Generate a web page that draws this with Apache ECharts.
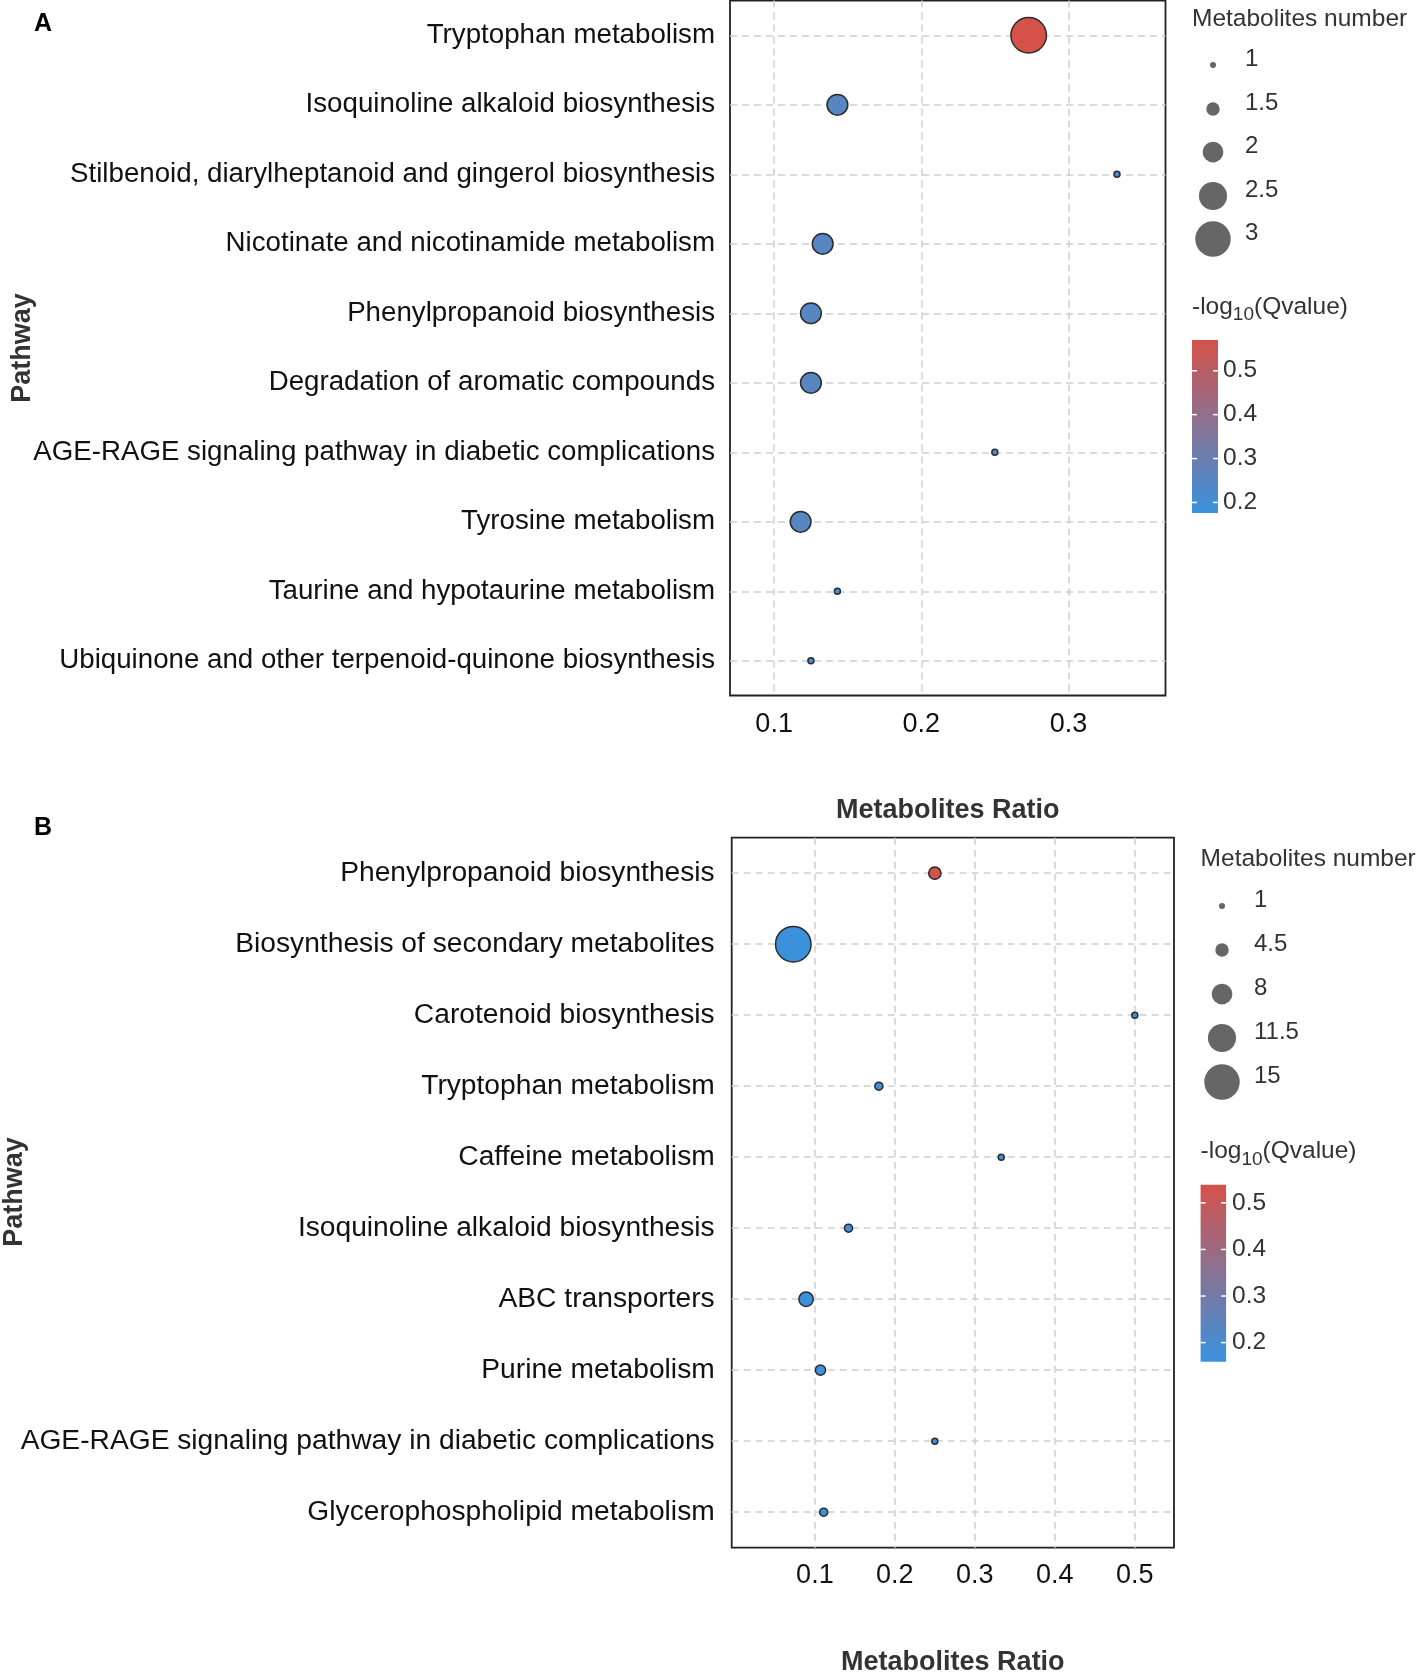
<!DOCTYPE html>
<html><head><meta charset="utf-8">
<script src="https://cdn.jsdelivr.net/npm/echarts@6/dist/echarts.min.js"></script>
<style>html,body{margin:0;padding:0;background:#fff}#c{width:1417px;height:1672px}</style>
</head><body><div id="c"></div>
<script>
// ---------- data ----------
const pathwaysA = ['Tryptophan metabolism','Isoquinoline alkaloid biosynthesis','Stilbenoid, diarylheptanoid and gingerol biosynthesis','Nicotinate and nicotinamide metabolism','Phenylpropanoid biosynthesis','Degradation of aromatic compounds','AGE-RAGE signaling pathway in diabetic complications','Tyrosine metabolism','Taurine and hypotaurine metabolism','Ubiquinone and other terpenoid-quinone biosynthesis'];
const ratioA = [0.273,0.143,0.333,0.133,0.125,0.125,0.25,0.118,0.143,0.125];
const countA = [3,2,1,2,2,2,1,2,1,1];
const qvalA  = [0.570,0.25,0.215,0.25,0.25,0.25,0.215,0.25,0.18,0.18];

const pathwaysB = ['Phenylpropanoid biosynthesis','Biosynthesis of secondary metabolites','Carotenoid biosynthesis','Tryptophan metabolism','Caffeine metabolism','Isoquinoline alkaloid biosynthesis','ABC transporters','Purine metabolism','AGE-RAGE signaling pathway in diabetic complications','Glycerophospholipid metabolism'];
const ratioB = [0.25,0.073,0.5,0.18,0.333,0.142,0.089,0.107,0.25,0.111];
const countB = [4,15,1,2,1,2,5,3,1,2];
const qvalB  = [0.539,0.165,0.165,0.165,0.165,0.165,0.165,0.165,0.165,0.165];

const xTicksA = [0.1,0.2,0.3];
const xTicksB = [0.1,0.2,0.3,0.4,0.5];
const xRangeA = [0.070,0.366];
const xRangeB = [-0.004,0.549];
const sizeBreaksA = [1,1.5,2,2.5,3];
const sizeBreaksB = [1,4.5,8,11.5,15];
const colorBreaks = [0.2,0.3,0.4,0.5];
const colorRangeA = [0.176,0.570];
const colorRangeB = [0.159,0.539];

// ---------- style / layout ----------
const FONT = '"Liberation Sans", Arial, Helvetica, sans-serif';
const LOW = '#3A92DE', HIGH = '#D4524A';
const GRIDLINE = {color:'#cfcfcf', width:1.5, type:[7,5]};
function sizeOf(v, br){ const lo = br[0], hi = br[br.length-1]; return 6 + (v-lo)/(hi-lo)*29.5; }

const layA = {grid:{left:730, top:0.5, width:435.5, height:695}, nameGap:102, xMargin:16, yFont:27.7, yMargin:15, letter:[34,24], pathway:[23,348],
  size:{tx:1192, ty:19, cx:1213, ys:[65,109,152,196,239], lx:1245},
  col:{tx:1192, ty:307, x:1192, y:340, w:26, h:173, lx:1223}};
const layB = {grid:{left:731.7, top:837.7, width:442.3, height:710}, nameGap:101, xMargin:14, yFont:28.2, yMargin:17, letter:[34,828], pathway:[15,1192],
  size:{tx:1200.6, ty:859, cx:1222, ys:[906,950,994,1038,1082], lx:1254},
  col:{tx:1200.6, ty:1151.5, x:1200.6, y:1184.7, w:25.5, h:177, lx:1232}};

const measure = document.createElement('canvas').getContext('2d');
function textW(t, f){ measure.font = f; return measure.measureText(t).width; }

const option = {animation:false, backgroundColor:'#fff', grid:[], xAxis:[], yAxis:[], series:[], visualMap:[], graphic:[]};

function addPanel(idx, letter, cats, ratio, count, qval, xRange, xTicks, sizeBreaks, colorRange, lay){
  option.grid.push(Object.assign({show:true, borderColor:'#222', borderWidth:1.8, backgroundColor:'transparent', containLabel:false, outerBoundsMode:'none'}, lay.grid));
  option.xAxis.push({gridIndex:idx, type:'value', min:xRange[0], max:xRange[1],
    axisLine:{show:false}, axisTick:{show:false, customValues:xTicks},
    axisLabel:{customValues:xTicks, fontSize:27, color:'#111', margin:lay.xMargin, fontFamily:FONT},
    splitLine:{show:true, lineStyle:GRIDLINE},
    name:'Metabolites Ratio', nameLocation:'middle', nameGap:lay.nameGap,
    nameTextStyle:{fontSize:27, fontWeight:'bold', color:'#333', fontFamily:FONT}});
  option.yAxis.push({gridIndex:idx, type:'category', data:cats, inverse:true,
    axisLine:{show:false}, axisTick:{show:false},
    axisLabel:{fontSize:lay.yFont, color:'#111', margin:lay.yMargin, interval:0, fontFamily:FONT, padding:[9,0,0,0]},
    splitLine:{show:true, interval:0, alignWithLabel:true, lineStyle:GRIDLINE}});
  option.series.push({type:'scatter', xAxisIndex:idx, yAxisIndex:idx, z:5,
    data: ratio.map((r,i)=>[r, cats[i], count[i], qval[i]]),
    symbolSize: v => sizeOf(v[2], sizeBreaks),
    itemStyle:{borderColor:'#2b2b2b', borderWidth:1.5, opacity:1},
    emphasis:{disabled:true}});
  option.visualMap.push({type:'continuous', show:false, seriesIndex:idx, dimension:3,
    min:colorRange[0], max:colorRange[1], inRange:{color:[LOW, HIGH]}});

  const g = option.graphic;
  g.push({type:'text', style:{text:letter, x:lay.letter[0], y:lay.letter[1], font:'bold 25px '+FONT, fill:'#000', textVerticalAlign:'middle'}});
  g.push({type:'text', rotation:Math.PI/2, x:lay.pathway[0], y:lay.pathway[1],
    style:{text:'Pathway', x:0, y:0, font:'bold 27px '+FONT, fill:'#333', textAlign:'center', textVerticalAlign:'middle'}});
  // size legend
  const s = lay.size;
  g.push({type:'text', style:{text:'Metabolites number', x:s.tx, y:s.ty, font:'24.5px '+FONT, fill:'#333', textVerticalAlign:'middle'}});
  sizeBreaks.forEach((b,i)=>{
    g.push({type:'circle', shape:{cx:s.cx, cy:s.ys[i], r:sizeOf(b, sizeBreaks)/2}, style:{fill:'#666'}});
    g.push({type:'text', style:{text:String(b), x:s.lx, y:s.ys[i]-6, font:'24px '+FONT, fill:'#333', textVerticalAlign:'middle'}});
  });
  // colour legend
  const c = lay.col;
  const f1 = '24.5px '+FONT, f2 = '19px '+FONT;
  const w1 = textW('-log', f1), w2 = textW('10', f2);
  g.push({type:'text', style:{text:'-log', x:c.tx, y:c.ty, font:f1, fill:'#333', textVerticalAlign:'middle'}});
  g.push({type:'text', style:{text:'10', x:c.tx+w1, y:c.ty+8, font:f2, fill:'#333', textVerticalAlign:'middle'}});
  g.push({type:'text', style:{text:'(Qvalue)', x:c.tx+w1+w2, y:c.ty, font:f1, fill:'#333', textVerticalAlign:'middle'}});
  g.push({type:'rect', shape:{x:c.x, y:c.y, width:c.w, height:c.h},
    style:{fill:new echarts.graphic.LinearGradient(0,1,0,0,[{offset:0,color:LOW},{offset:1,color:HIGH}])}});
  colorBreaks.forEach(b=>{
    const yy = c.y + c.h - (b-colorRange[0])/(colorRange[1]-colorRange[0])*c.h;
    g.push({type:'line', shape:{x1:c.x, y1:yy, x2:c.x+5, y2:yy}, style:{stroke:'#fff', lineWidth:1.5}, z:10});
    g.push({type:'line', shape:{x1:c.x+c.w-5, y1:yy, x2:c.x+c.w, y2:yy}, style:{stroke:'#fff', lineWidth:1.5}, z:10});
    g.push({type:'text', style:{text:String(b), x:c.lx, y:yy, font:'24.5px '+FONT, fill:'#333', textVerticalAlign:'middle'}});
  });
}

addPanel(0, 'A', pathwaysA, ratioA, countA, qvalA, xRangeA, xTicksA, sizeBreaksA, colorRangeA, layA);
addPanel(1, 'B', pathwaysB, ratioB, countB, qvalB, xRangeB, xTicksB, sizeBreaksB, colorRangeB, layB);

const chart = echarts.init(document.getElementById('c'), null, {renderer:'canvas'});
chart.setOption(option);
</script></body></html>
